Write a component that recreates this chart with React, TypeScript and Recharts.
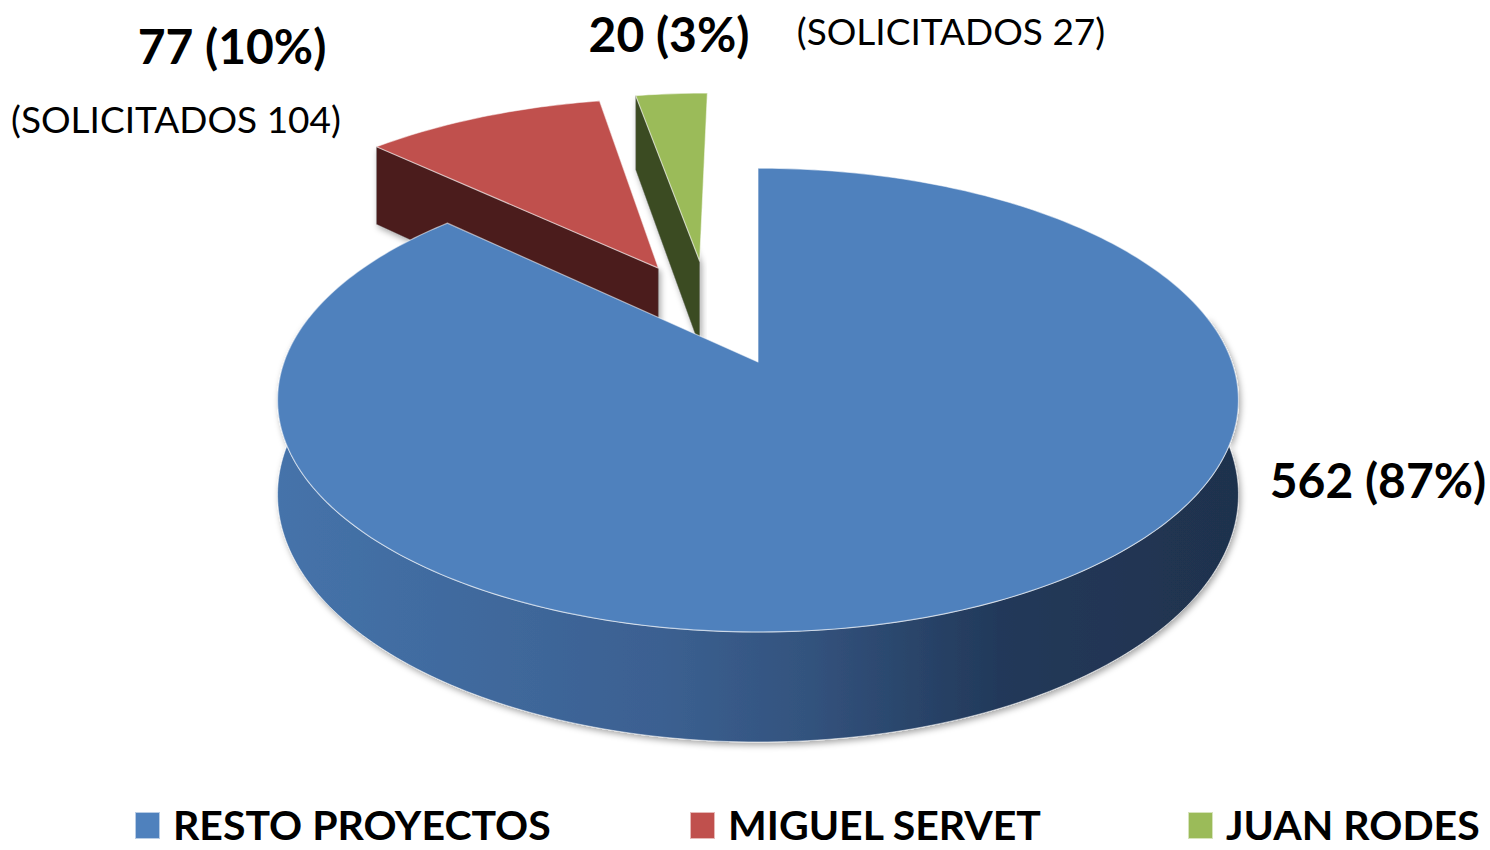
import { Legend, Pie, PieChart } from "recharts";

const categories = ["RESTO PROYECTOS", "MIGUEL SERVET", "JUAN RODES"];
const counts = [562, 77, 20];
const percents = [87, 10, 3];
const requested: (number | null)[] = [null, 104, 27];

const topColors = ["#4f81bd", "#c0504d", "#9bbb59"];
const faceColors = ["#1f3350", "#4b1e1f", "#3b4b22"];

// slices in the back are painted first, the big one last
const drawOrder = [1, 2, 0];
const explode = [0, 0.5, 0.5];
const explodeTurn = [0, -2, 10];

const W = 1490;
const H = 850;
const CX = 758;
const CY = 362;
const R = 567;
const PERSP = -0.282;
const TILT = 0.409;
const DEPTH = 110;
const FONT = "Lato, 'Open Sans', sans-serif";

const labelPos = [
  { x: 1378, y: 498, sx: 0, sy: 0 },
  { x: 232, y: 64, sx: 176, sy: 133 },
  { x: 669, y: 52, sx: 951, sy: 45 },
];
const legendX = [135, 690, 1188];

const pieData = drawOrder.map((i) => ({ name: categories[i], value: percents[i], idx: i }));
const startAngle = 90 + (360 * (100 - percents[0])) / 100;

function project(cx: number, cy: number, r: number, u: number, v: number, h: number) {
  const p = (1 - v) / 2;
  const f = (1 + PERSP) / (1 + PERSP * p);
  const span = 2 * r * TILT;
  const yBack = cy - (span * 0.5 * (1 + PERSP)) / (1 + PERSP / 2);
  return [cx + r * u * f, yBack + span * p * f + h * DEPTH * f];
}

function rim(cx: number, cy: number, r: number, ou: number, ov: number, from: number, to: number, h: number) {
  const n = Math.max(2, Math.ceil(Math.abs(to - from)) + 1);
  const pts: number[][] = [];
  for (let i = 0; i < n; i++) {
    const a = ((from + ((to - from) * i) / (n - 1)) * Math.PI) / 180;
    pts.push(project(cx, cy, r, ou + Math.cos(a), ov + Math.sin(a), h));
  }
  return pts;
}

const toPath = (pts: number[][]) =>
  "M" + pts.map((p) => `${p[0].toFixed(2)},${p[1].toFixed(2)}`).join("L") + "Z";

function renderSlice(props: any) {
  const { cx, cy, outerRadius: r, startAngle: a0, endAngle: a1, index } = props;
  const ci = pieData[index].idx;
  const mid = (((a0 + a1) / 2 + explodeTurn[ci]) * Math.PI) / 180;
  const ou = explode[ci] * Math.cos(mid);
  const ov = explode[ci] * Math.sin(mid);
  const cTop = project(cx, cy, r, ou, ov, 0);
  const cBot = project(cx, cy, r, ou, ov, 1);

  const faces: string[] = [];
  // cut faces turned towards the viewer
  [
    { ang: a0, normal: a0 + 90 },
    { ang: a1, normal: a1 - 90 },
  ].forEach(({ ang, normal }) => {
    if (Math.sin((normal * Math.PI) / 180) < -0.01) {
      const t = rim(cx, cy, r, ou, ov, ang, ang, 0)[0];
      const b = rim(cx, cy, r, ou, ov, ang, ang, 1)[0];
      faces.push(toPath([cTop, t, b, cBot]));
    }
  });

  const walls: string[] = [];
  [
    [-552, -348],
    [-192, 12],
    [168, 372],
  ].forEach(([wlo, whi]) => {
    const lo = Math.max(a1, wlo);
    const hi = Math.min(a0, whi);
    if (lo < hi) {
      const top = rim(cx, cy, r, ou, ov, hi, lo, 0);
      const bot = rim(cx, cy, r, ou, ov, lo, hi, 1);
      walls.push(toPath([...top, ...bot]));
    }
  });

  const topFace = toPath([cTop, ...rim(cx, cy, r, ou, ov, a0, a1, 0)]);
  const lp = labelPos[ci];

  return (
    <g key={`slice-${ci}`}>
      {index === 0 && (
        <defs>
          <linearGradient id="wall-0" gradientUnits="userSpaceOnUse" x1={cx - r * 0.85} x2={cx + r * 0.85} y1={0} y2={0}>
            <stop offset="0" stopColor="#4573aa" />
            <stop offset="0.4" stopColor="#3b6091" />
            <stop offset="0.55" stopColor="#33537e" />
            <stop offset="0.75" stopColor="#22395a" />
            <stop offset="1" stopColor="#1f324d" />
          </linearGradient>
          <filter id="soft" x="-10%" y="-10%" width="120%" height="130%">
            <feDropShadow dx="2" dy="3" stdDeviation="3" floodColor="#000" floodOpacity="0.35" />
          </filter>
        </defs>
      )}
      {faces.map((d, k) => (
        <path key={`f${k}`} d={d} fill={faceColors[ci]} stroke="#8a8a8a" strokeOpacity={0.5} strokeWidth={0.8} filter="url(#soft)" />
      ))}
      {walls.map((d, k) => (
        <path key={`w${k}`} d={d} fill="url(#wall-0)" stroke="#ffffff" strokeOpacity={0.5} strokeWidth={1} filter="url(#soft)" />
      ))}
      <path d={topFace} fill={topColors[ci]} stroke="#ffffff" strokeOpacity={0.55} strokeWidth={1.2} strokeLinejoin="round" />
      <text x={lp.x} y={lp.y} textAnchor="middle" fontFamily={FONT} fontWeight={700} fontSize={48} fill="#000">
        {`${counts[ci]} (${percents[ci]}%)`}
      </text>
      {requested[ci] !== null && (
        <text x={lp.sx} y={lp.sy} textAnchor="middle" fontFamily={FONT} fontSize={37} fill="#000">
          {`(SOLICITADOS ${requested[ci]})`}
        </text>
      )}
    </g>
  );
}

function LegendBox() {
  return (
    <div style={{ position: "relative", width: W, height: 50 }}>
      {categories.map((c, i) => (
        <div
          key={c}
          style={{
            position: "absolute",
            left: legendX[i],
            top: 0,
            height: 50,
            display: "flex",
            alignItems: "center",
            whiteSpace: "nowrap",
          }}
        >
          <span style={{ width: 23, height: 25, background: topColors[i], border: "1px solid rgba(255,255,255,0.6)" }} />
          <span style={{ marginLeft: 13, fontFamily: FONT, fontWeight: 700, fontSize: 41, lineHeight: "50px", color: "#000" }}>
            {c}
          </span>
        </div>
      ))}
    </div>
  );
}

export default function App() {
  return (
    <div style={{ position: "absolute", left: 0, top: 0, width: W, height: H, background: "#fff", overflow: "hidden" }}>
      <PieChart width={W} height={H} margin={{ top: 0, right: 0, bottom: 0, left: 0 }}>
        <Pie
          data={pieData}
          dataKey="value"
          nameKey="name"
          cx={CX}
          cy={CY}
          outerRadius={R}
          startAngle={startAngle}
          endAngle={startAngle - 360}
          fill="none"
          stroke="none"
          label={renderSlice}
          labelLine={false}
          isAnimationActive={false}
        />
        <Legend verticalAlign="bottom" wrapperStyle={{ left: 0, bottom: 0, width: W }} content={() => <LegendBox />} />
      </PieChart>
    </div>
  );
}
